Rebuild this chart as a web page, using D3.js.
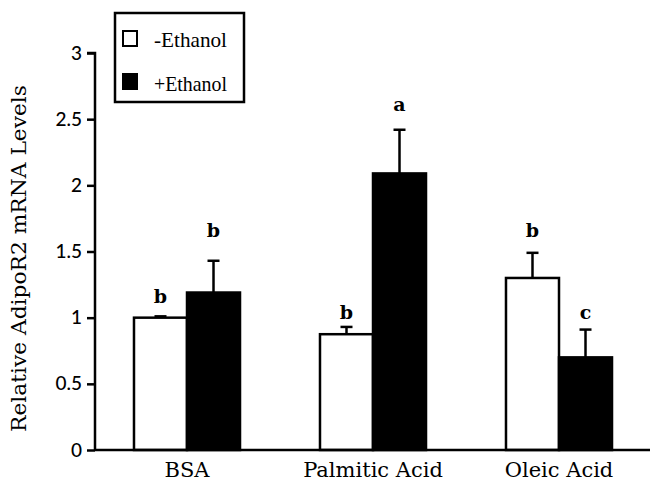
<!DOCTYPE html>
<html>
<head>
<meta charset="utf-8">
<script src="https://cdn.jsdelivr.net/npm/d3@7"></script>
<style>
  html, body { margin: 0; padding: 0; background: #fff; }
  svg { display: block; }
</style>
</head>
<body>
<svg id="chart" width="650" height="483"></svg>
<script>
// ---- data ----
const categories = ["BSA", "Palmitic Acid", "Oleic Acid"];
const seriesNames = ["-Ethanol", "+Ethanol"];
const minusEthanol = [1.00, 0.875, 1.30];
const plusEthanol = [1.19, 2.09, 0.70];
const minusEthanolErr = [0.01, 0.055, 0.19];
const plusEthanolErr = [0.24, 0.33, 0.21];
const minusEthanolLetters = ["b", "b", "b"];
const plusEthanolLetters = ["b", "a", "c"];
const minusEthanolLetterAt = [1.16, 1.04, 1.66];
const plusEthanolLetterAt = [1.66, 2.61, 1.04];
const yTicks = [0, 0.5, 1, 1.5, 2, 2.5, 3];
const yTickLabels = ["0", "0.5", "1", "1.5", "2", "2.5", "3"];
const yTitle = "Relative AdipoR2 mRNA Levels";

// ---- build rows ----
const rows = [];
categories.forEach((c, i) => {
  rows.push({cat: c, s: seriesNames[0], v: minusEthanol[i], e: minusEthanolErr[i], l: minusEthanolLetters[i], la: minusEthanolLetterAt[i], fill: "#fff"});
  rows.push({cat: c, s: seriesNames[1], v: plusEthanol[i], e: plusEthanolErr[i], l: plusEthanolLetters[i], la: plusEthanolLetterAt[i], fill: "#000"});
});

const svg = d3.select("#chart");
const axisX = 95;
const y = d3.scaleLinear().domain([0, 3]).range([450, 53]);
const x = d3.scaleBand().domain(categories).range([94, 652]).paddingInner(0.43).paddingOuter(0.215);
const xs = d3.scaleBand().domain(seriesNames).range([0, x.bandwidth()]);

// bars
svg.append("g").selectAll("rect").data(rows).join("rect")
  .attr("x", d => x(d.cat) + xs(d.s))
  .attr("y", d => y(d.v))
  .attr("width", xs.bandwidth())
  .attr("height", d => y(0) - y(d.v))
  .attr("fill", d => d.fill)
  .attr("stroke", "#000")
  .attr("stroke-width", 2.5);

// error bars (upward only)
const eb = svg.append("g").attr("stroke", "#000").attr("stroke-width", 2.5);
rows.forEach(d => {
  const cx = x(d.cat) + xs(d.s) + xs.bandwidth() / 2;
  eb.append("line").attr("x1", cx).attr("x2", cx).attr("y1", y(d.v)).attr("y2", y(d.v + d.e));
  eb.append("line").attr("x1", cx - 6).attr("x2", cx + 6).attr("y1", y(d.v + d.e)).attr("y2", y(d.v + d.e));
});

// significance letters
svg.append("g").selectAll("text").data(rows).join("text")
  .attr("x", d => x(d.cat) + xs(d.s) + xs.bandwidth() / 2)
  .attr("y", d => y(d.la))
  .attr("dy", "0.35em")
  .attr("text-anchor", "middle")
  .attr("font-family", "DejaVu Serif")
  .attr("font-size", 19)
  .attr("font-weight", "bold")
  .text(d => d.l);

// y axis
const yAxis = d3.axisLeft(y).tickValues(yTicks).tickFormat((d, i) => yTickLabels[i]).tickSize(8).tickPadding(5);
const ga = svg.append("g").attr("transform", `translate(${axisX},0)`).call(yAxis);
ga.select(".domain").attr("stroke-width", 2.5).attr("d", `M-8,${y(3)}H0V${y(0)}`);
ga.selectAll(".tick line").attr("stroke-width", 2.5);
ga.selectAll(".tick text").attr("font-family", "Lato").attr("font-size", 19).attr("font-weight", 500).attr("fill", "#000");

// x axis baseline
const xAxis = d3.axisBottom(x).tickSize(0).tickPadding(9);
const gx = svg.append("g").attr("transform", `translate(0,${y(0)})`).call(xAxis);
gx.select(".domain").attr("stroke-width", 2.5).attr("d", `M${axisX},0H650`);
gx.selectAll(".tick text").attr("font-family", "DejaVu Serif").attr("font-size", 21).attr("fill", "#000").attr("dy", "0.85em");

// y title
svg.append("text")
  .attr("transform", `translate(26,${(85 + 432) / 2}) rotate(-90)`)
  .attr("text-anchor", "middle")
  .attr("font-family", "DejaVu Serif")
  .attr("font-size", 20)
  .attr("textLength", 347)
  .attr("lengthAdjust", "spacingAndGlyphs")
  .text(yTitle);

// legend
const lg = svg.append("g");
lg.append("rect").attr("x", 115).attr("y", 13).attr("width", 129).attr("height", 89)
  .attr("fill", "#fff").attr("stroke", "#000").attr("stroke-width", 2.5);
seriesNames.forEach((s, i) => {
  lg.append("rect").attr("x", 123).attr("y", 31 + i * 43).attr("width", 14).attr("height", 15)
    .attr("fill", i === 0 ? "#fff" : "#000").attr("stroke", "#000").attr("stroke-width", 2);
  lg.append("text").attr("x", 154).attr("y", 47 + i * 44)
    .attr("font-family", "Liberation Serif").attr("font-size", 21)
    .attr("textLength", 73).attr("lengthAdjust", "spacingAndGlyphs").text(s);
});
</script>
</body>
</html>
